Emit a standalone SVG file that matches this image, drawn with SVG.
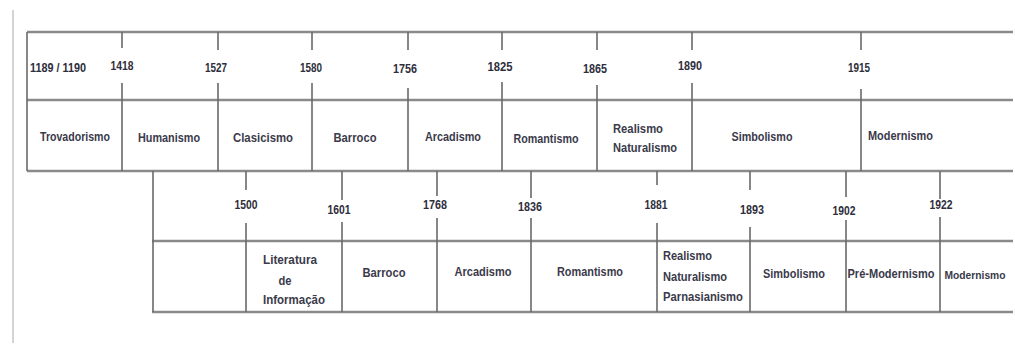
<svg xmlns="http://www.w3.org/2000/svg" width="1015" height="349" viewBox="0 0 1015 349">
<style>
.h{stroke:#8a8a8a;stroke-width:2.5;fill:none}
.v{stroke:#6a6a6a;stroke-width:1.6;fill:none}
.t{font-family:"Liberation Sans",Arial,sans-serif;font-size:13px;font-weight:bold;fill:#3a3a4a;text-anchor:middle}
.y{font-family:"Liberation Sans",Arial,sans-serif;font-size:12px;font-weight:bold;fill:#2e2e3c;text-anchor:middle}
.l{text-anchor:start}
.s{font-size:11px}
</style>
<rect width="1015" height="349" fill="#fff"/>
<line x1="13" y1="10" x2="13" y2="343" stroke="#d4d4d4" stroke-width="2"/>
<g id="connectors">
<line class="h" x1="27" y1="32" x2="1013" y2="32"/>
<line class="h" x1="27" y1="100" x2="1013" y2="100"/>
<line class="h" x1="27" y1="171" x2="1013" y2="171"/>
<line class="v" x1="27" y1="32" x2="27" y2="171"/>
<path class="v" d="M122 32V48M122 83V171M218 32V50M218 83V171M312 32V50M312 83V171M408 32V50M408 88V171M502 32V50M502 82V171M597 32V50M597 85V171M692 32V50M692 83V171M861 32V50M861 89V171"/>
<line class="h" x1="152" y1="241" x2="1013" y2="241"/>
<line class="h" x1="152" y1="312" x2="1013" y2="312"/>
<line class="v" x1="153" y1="171" x2="153" y2="312"/>
<path class="v" d="M246 171V190M246 223V312M342 171V200M342 222V312M437 171V196M437 218V312M531 171V198M531 218V312M657 171V185M657 223V312M750 171V190M750 227V312M846 171V197M846 220V312M940 171V199M940 217V312"/>
</g>
<g id="years-top">
<text class="y" x="58" y="72" textLength="56" lengthAdjust="spacingAndGlyphs">1189 / 1190</text>
<text class="y" x="122" y="70" textLength="23" lengthAdjust="spacingAndGlyphs">1418</text>
<text class="y" x="216" y="72" textLength="22" lengthAdjust="spacingAndGlyphs">1527</text>
<text class="y" x="311" y="72" textLength="22" lengthAdjust="spacingAndGlyphs">1580</text>
<text class="y" x="405" y="73" textLength="24" lengthAdjust="spacingAndGlyphs">1756</text>
<text class="y" x="500" y="71" textLength="25" lengthAdjust="spacingAndGlyphs">1825</text>
<text class="y" x="595" y="73" textLength="24" lengthAdjust="spacingAndGlyphs">1865</text>
<text class="y" x="690" y="70" textLength="24" lengthAdjust="spacingAndGlyphs">1890</text>
<text class="y" x="859" y="72" textLength="22" lengthAdjust="spacingAndGlyphs">1915</text>
</g>
<g id="row-top">
<text id="trovadorismo" class="t" x="75" y="141" textLength="70" lengthAdjust="spacingAndGlyphs">Trovadorismo</text>
<text id="humanismo" class="t" x="169" y="142" textLength="62" lengthAdjust="spacingAndGlyphs">Humanismo</text>
<text id="clasicismo" class="t" x="263" y="142" textLength="60" lengthAdjust="spacingAndGlyphs">Clasicismo</text>
<text id="barroco1" class="t" x="355" y="142" textLength="43" lengthAdjust="spacingAndGlyphs">Barroco</text>
<text id="arcadismo1" class="t" x="453" y="141" textLength="56" lengthAdjust="spacingAndGlyphs">Arcadismo</text>
<text id="romantismo1" class="t" x="546" y="143" textLength="65" lengthAdjust="spacingAndGlyphs">Romantismo</text>
<g id="realismo1">
<text class="t l" x="613" y="133" textLength="50" lengthAdjust="spacingAndGlyphs">Realismo</text>
<text class="t l" x="613" y="152" textLength="64" lengthAdjust="spacingAndGlyphs">Naturalismo</text>
</g>
<text id="simbolismo1" class="t" x="762" y="141" textLength="61" lengthAdjust="spacingAndGlyphs">Simbolismo</text>
<text id="modernismo1" class="t l" x="868" y="140" textLength="65" lengthAdjust="spacingAndGlyphs">Modernismo</text>
</g>
<g id="years-bottom">
<text class="y" x="246" y="209" textLength="23" lengthAdjust="spacingAndGlyphs">1500</text>
<text class="y" x="339" y="214" textLength="23" lengthAdjust="spacingAndGlyphs">1601</text>
<text class="y" x="435" y="209" textLength="24" lengthAdjust="spacingAndGlyphs">1768</text>
<text class="y" x="530" y="211" textLength="24" lengthAdjust="spacingAndGlyphs">1836</text>
<text class="y" x="656" y="209" textLength="23" lengthAdjust="spacingAndGlyphs">1881</text>
<text class="y" x="752" y="214" textLength="24" lengthAdjust="spacingAndGlyphs">1893</text>
<text class="y" x="844" y="215" textLength="23" lengthAdjust="spacingAndGlyphs">1902</text>
<text class="y" x="941" y="209" textLength="23" lengthAdjust="spacingAndGlyphs">1922</text>
</g>
<g id="row-bottom">
<g id="literatura">
<text class="t" x="290" y="264" textLength="54" lengthAdjust="spacingAndGlyphs">Literatura</text>
<text class="t" x="285" y="285" textLength="13" lengthAdjust="spacingAndGlyphs">de</text>
<text class="t" x="294" y="304" textLength="62" lengthAdjust="spacingAndGlyphs">Informação</text>
</g>
<text id="barroco2" class="t" x="384" y="277" textLength="43" lengthAdjust="spacingAndGlyphs">Barroco</text>
<text id="arcadismo2" class="t" x="483" y="276" textLength="57" lengthAdjust="spacingAndGlyphs">Arcadismo</text>
<text id="romantismo2" class="t" x="590" y="276" textLength="66" lengthAdjust="spacingAndGlyphs">Romantismo</text>
<g id="realismo2">
<text class="t l" x="663" y="260" textLength="49" lengthAdjust="spacingAndGlyphs">Realismo</text>
<text class="t l" x="663" y="281" textLength="64" lengthAdjust="spacingAndGlyphs">Naturalismo</text>
<text class="t l" x="663" y="301" textLength="80" lengthAdjust="spacingAndGlyphs">Parnasianismo</text>
</g>
<text id="simbolismo2" class="t" x="794" y="278" textLength="62" lengthAdjust="spacingAndGlyphs">Simbolismo</text>
<text id="premodernismo" class="t" x="891" y="278" textLength="87" lengthAdjust="spacingAndGlyphs">Pré-Modernismo</text>
<text id="modernismo2" class="t s" x="975" y="279" textLength="61" lengthAdjust="spacingAndGlyphs">Modernismo</text>
</g>
</svg>
